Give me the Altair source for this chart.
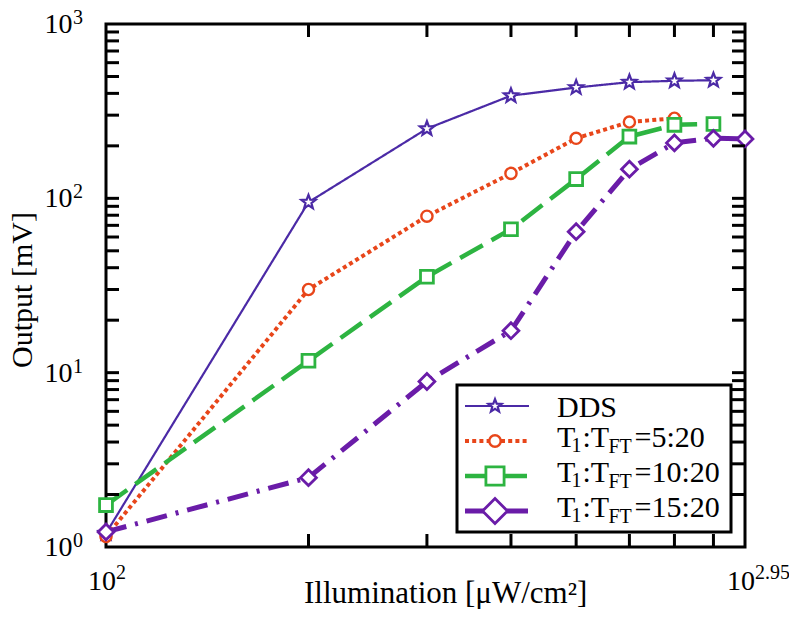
import math
import altair as alt
import pandas as pd

# ---------------- data ----------------
illum = [100, 200, 300, 400, 500, 600, 700, 800, 891.25]
dds = [1.2, 95, 251, 388, 432, 464, 472, 476]
t_5_20 = [1.15, 30, 79, 139, 221, 274, 288]
t_10_20 = [1.74, 11.7, 35.5, 66.5, 129, 226, 264, 267]
t_15_20 = [1.22, 2.5, 8.9, 17.4, 64.4, 147, 208, 221, 219]
series = ["DDS", "5:20", "10:20", "15:20"]

y_major = [1, 10, 100, 1000]
y_exp = ["0", "1", "2", "3"]
y_tick_vals = [2, 3, 4, 5, 6, 7, 8, 9, 10, 20, 30, 40, 50, 60, 70, 80, 90,
               100, 200, 300, 400, 500, 600, 700, 800, 900]
x_tick_vals = [200, 300, 400, 500, 600, 700, 800]
x_label_vals = [100, 891.25]
x_exp = ["2", "2.95"]

x_title = "Illumination [μW/cm²]"
y_title = "Output [mV]"

# ---------------- styles ----------------
FONT = "Liberation Serif"
W, H = 639, 523
colors = ["#4b2aa6", "#e8461a", "#2db441", "#6a1ca8"]
dashes = [[1, 0], [4, 3.2], [26, 10], [21, 9, 3, 9]]
line_w = [2.2, 4, 4.5, 5]


def star_path(inner=0.42):
    pts = []
    for i in range(10):
        r = 1.0 if i % 2 == 0 else inner
        a = -math.pi / 2 + i * math.pi / 5
        pts.append(f"{r * math.cos(a):.3f},{r * math.sin(a):.3f}")
    return "M" + "L".join(pts) + "Z"


shapes = [star_path(), "circle", "square", "diamond"]
pt_size = [220, 125, 165, 250]
pt_sw = [2.2, 2.4, 2.8, 2.8]
leg_size = [190, 130, 330, 620]

# ---------------- tables ----------------
rows = []
for name, vals in zip(series, [dds, t_5_20, t_10_20, t_15_20]):
    for xv, yv in zip(illum, vals):
        rows.append({"series": name, "illum": xv, "out": yv})
df = pd.DataFrame(rows)

ytick_df = pd.DataFrame({"v": y_tick_vals})
xtick_df = pd.DataFrame({"v": x_tick_vals})
ylab_df = pd.DataFrame({"v": y_major, "exp": y_exp, "base": ["10"] * len(y_major)})
xlab_df = pd.DataFrame({"v": x_label_vals, "exp": x_exp, "base": ["10"] * len(x_label_vals)})
leg_df = pd.DataFrame({"series": series, "row": list(range(len(series)))})
leg_t_df = leg_df[leg_df["series"] != "DDS"].assign(
    T="T", one="1", colT=":T", FT="FT", eq=lambda d: "=" + d["series"])
leg_dds_df = leg_df[leg_df["series"] == "DDS"]

xs = alt.Scale(type="log", domain=[100, 891.25], nice=False)
ys = alt.Scale(type="log", domain=[1, 1000], nice=False)
rowscale = alt.Scale(domain=[0, 3], range=[382, 487])

X = alt.X("illum:Q", scale=xs, axis=None)
Y = alt.Y("out:Q", scale=ys, axis=None)
R = alt.Y("row:Q", scale=rowscale, axis=None)

data_layers = []
leg_layers = []
for i, name in enumerate(series):
    sub = df[df["series"] == name]
    data_layers.append(
        alt.Chart(sub).mark_line(color=colors[i], strokeDash=dashes[i], strokeWidth=line_w[i]).encode(x=X, y=Y)
    )
for i, name in enumerate(series):
    sub = df[df["series"] == name]
    data_layers.append(
        alt.Chart(sub).mark_point(shape=shapes[i], size=pt_size[i], stroke=colors[i], fill="white",
                                  filled=True, opacity=1, strokeWidth=pt_sw[i]).encode(x=X, y=Y)
    )
    lsub = leg_df[leg_df["series"] == name]
    leg_layers.append(
        alt.Chart(lsub).mark_rule(color=colors[i], strokeDash=dashes[i], strokeWidth=line_w[i]).encode(
            y=R, x=alt.value(359), x2=alt.value(423))
    )
    leg_layers.append(
        alt.Chart(lsub).mark_point(shape=shapes[i], size=leg_size[i], stroke=colors[i], fill="white",
                                   filled=True, opacity=1, strokeWidth=pt_sw[i]).encode(y=R, x=alt.value(389))
    )

tick_style = dict(color="black", strokeWidth=3)
yT = alt.Y("v:Q", scale=ys, axis=None)
xT = alt.X("v:Q", scale=xs, axis=None)
left_ticks = alt.Chart(ytick_df).mark_rule(**tick_style).encode(y=yT, x=alt.value(0), x2=alt.value(13))
right_ticks = alt.Chart(ytick_df).mark_rule(**tick_style).encode(y=yT, x=alt.value(W - 13), x2=alt.value(W))
bottom_ticks = alt.Chart(xtick_df).mark_rule(**tick_style).encode(x=xT, y=alt.value(H - 13), y2=alt.value(H))
top_ticks = alt.Chart(xtick_df).mark_rule(**tick_style).encode(x=xT, y=alt.value(0), y2=alt.value(13))

y_base = alt.Chart(ylab_df).mark_text(font=FONT, fontSize=28, align="right", baseline="alphabetic", dy=9).encode(
    y=yT, x=alt.value(-33.5), text="base:N")
y_sup = alt.Chart(ylab_df).mark_text(font=FONT, fontSize=20, align="left", baseline="alphabetic", dy=0).encode(
    y=yT, x=alt.value(-33), text="exp:N")
x_base = alt.Chart(xlab_df).mark_text(font=FONT, fontSize=28, align="right", baseline="alphabetic", dx=10, dy=43).encode(
    x=xT, y=alt.value(H), text="base:N")
x_sup = alt.Chart(xlab_df).mark_text(font=FONT, fontSize=20, align="left", baseline="alphabetic", dx=10, dy=32).encode(
    x=xT, y=alt.value(H), text="exp:N")

title_df = pd.DataFrame({"xt": [x_title], "yt": [y_title]})
x_tt = alt.Chart(title_df).mark_text(font=FONT, fontSize=31, align="left", baseline="alphabetic").encode(
    x=alt.value(198), y=alt.value(579), text="xt:N")
y_tt = alt.Chart(title_df).mark_text(font=FONT, fontSize=30, align="center", baseline="alphabetic", angle=270).encode(
    x=alt.value(-74.5), y=alt.value(266), text="yt:N")

# ---------------- legend ----------------
leg_box = alt.Chart(title_df).mark_rect(fill="white", stroke="black", strokeWidth=3).encode(
    x=alt.value(351), x2=alt.value(625), y=alt.value(361), y2=alt.value(508))
big = dict(font=FONT, fontSize=30, align="left", baseline="alphabetic")
small = dict(font=FONT, fontSize=20, align="left", baseline="alphabetic")
leg_dds = alt.Chart(leg_dds_df).mark_text(dy=11, **big).encode(y=R, x=alt.value(451), text="series:N")
leg_T = alt.Chart(leg_t_df).mark_text(dy=6, **big).encode(y=R, x=alt.value(451), text="T:N")
leg_1 = alt.Chart(leg_t_df).mark_text(dy=11, **small).encode(y=R, x=alt.value(465.5), text="one:N")
leg_cT = alt.Chart(leg_t_df).mark_text(dy=6, **big).encode(y=R, x=alt.value(476.5), text="colT:N")
leg_FT = alt.Chart(leg_t_df).mark_text(dy=12, **small).encode(y=R, x=alt.value(502.5), text="FT:N")
leg_eq = alt.Chart(leg_t_df).mark_text(dy=6, **big).encode(y=R, x=alt.value(528.5), text="eq:N")

chart = alt.layer(
    *data_layers,
    left_ticks, right_ticks, bottom_ticks, top_ticks,
    y_base, y_sup, x_base, x_sup, x_tt, y_tt,
    leg_box, *leg_layers, leg_dds, leg_T, leg_1, leg_cT, leg_FT, leg_eq,
).resolve_scale(
    x="independent", y="independent"
).properties(
    width=W, height=H,
    autosize=alt.AutoSizeParams(type="none"),
    padding={"left": 98, "top": 16, "right": 44, "bottom": 62},
).configure_view(stroke="black", strokeWidth=3)

chart.save("out.html", embed_options={"renderer": "svg", "actions": False})
